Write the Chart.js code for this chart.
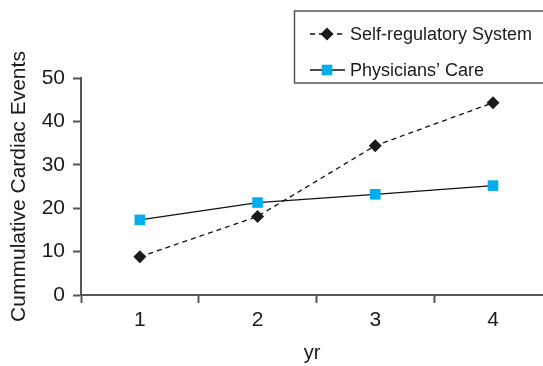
<!DOCTYPE html>
<html>
<head>
<meta charset="utf-8">
<script src="https://cdn.jsdelivr.net/npm/chart.js@4/dist/chart.umd.min.js"></script>
<style>
  html, body { margin: 0; padding: 0; background: #fff; }
  #wrap { width: 543px; height: 366px; position: relative; }
</style>
</head>
<body>
<div id="wrap"><canvas id="myChart"></canvas></div>
<script>
'use strict';
// data
const years = [1, 2, 3, 4];
const selfReg = [8.8, 18.1, 34.4, 44.3];
const physicians = [17.3, 21.3, 23.2, 25.2];
const seriesNames = ['Self-regulatory System', 'Physicians\u2019 Care'];
const yTicks = [0, 10, 20, 30, 40, 50];
const yTitle = 'Cummulative Cardiac Events';
const xTitle = 'yr';

const font = 'Liberation Sans, Arial, Helvetica, sans-serif';
const axisColor = '#555';
const textColor = '#1a1a1a';
const blue = '#00AEEF';

function toPoints(vals) {
    return years.map((x, i) => ({ x: x, y: vals[i] }));
}

// boxed legend, drawn from the datasets
const boxLegend = {
    id: 'boxLegend',
    afterDraw(chart) {
        const ctx = chart.ctx;
        const left = 294.5, top = 11, bottom = 83;
        ctx.save();
        ctx.strokeStyle = axisColor;
        ctx.lineWidth = 1.5;
        ctx.beginPath();
        ctx.moveTo(chart.width + 2, top);
        ctx.lineTo(left, top);
        ctx.lineTo(left, bottom);
        ctx.lineTo(chart.width + 2, bottom);
        ctx.stroke();

        const rows = [34, 70];
        chart.data.datasets.forEach((ds, i) => {
            const y = rows[i];
            const cx = 327;
            ctx.strokeStyle = ds.borderColor;
            ctx.lineWidth = ds.borderWidth;
            ctx.setLineDash(ds.borderDash || []);
            ctx.beginPath();
            ctx.moveTo(310, y);
            ctx.lineTo(345, y);
            ctx.stroke();
            ctx.setLineDash([]);
            ctx.fillStyle = ds.pointBackgroundColor;
            const r = ds.pointRadius;
            ctx.beginPath();
            if (ds.pointStyle === 'rectRot') {
                ctx.moveTo(cx, y - r);
                ctx.lineTo(cx + r, y);
                ctx.lineTo(cx, y + r);
                ctx.lineTo(cx - r, y);
                ctx.closePath();
            } else {
                const s = r * Math.SQRT1_2;
                ctx.rect(cx - s, y - s, 2 * s, 2 * s);
            }
            ctx.fill();
            ctx.fillStyle = textColor;
            ctx.font = '18px ' + font;
            ctx.textBaseline = 'middle';
            ctx.textAlign = 'left';
            ctx.fillText(ds.label, 350, y + 1);
        });
        ctx.restore();
    }
};

const config = {
    type: 'line',
    data: {
        datasets: [
            {
                label: seriesNames[0],
                data: toPoints(selfReg),
                borderColor: '#111',
                borderWidth: 1.3,
                borderDash: [5, 4],
                pointStyle: 'rectRot',
                pointRadius: 6.5,
                pointBackgroundColor: '#1a1a1a',
                pointBorderColor: '#1a1a1a',
                pointBorderWidth: 0,
                tension: 0,
            },
            {
                label: seriesNames[1],
                data: toPoints(physicians),
                borderColor: '#111',
                borderWidth: 1.3,
                pointStyle: 'rect',
                pointRadius: 7.5,
                pointBackgroundColor: blue,
                pointBorderColor: blue,
                pointBorderWidth: 0,
                tension: 0,
            },
        ],
    },
    options: {
        responsive: true,
        maintainAspectRatio: false,
        animation: false,
        layout: { autoPadding: false, padding: { top: 78, left: 0, right: 0, bottom: 0 } },
        plugins: {
            legend: { display: false },
            tooltip: { enabled: false },
        },
        scales: {
            x: {
                type: 'linear',
                min: 0.5,
                max: 4.425,
                afterBuildTicks: (scale) => {
                    scale.ticks = [0.5, 1, 1.5, 2, 2.5, 3, 3.5, 4].map((v) => ({ value: v }));
                },
                afterFit: (scale) => {
                    scale.height = 71;
                    scale.paddingLeft = 0;
                    scale.paddingRight = 0;
                },
                grid: {
                    drawOnChartArea: false,
                    tickLength: 8,
                    tickWidth: 2,
                    tickColor: (c) => (c.tick && Number.isInteger(c.tick.value) ? 'rgba(0,0,0,0)' : axisColor),
                },
                border: { display: true, color: axisColor, width: 2 },
                ticks: {
                    autoSkip: false,
                    maxRotation: 0,
                    padding: 5,
                    color: textColor,
                    font: { family: font, size: 21 },
                    callback: (v) => (Number.isInteger(v) ? String(v) : ''),
                },
                title: {
                    display: true,
                    text: xTitle,
                    color: textColor,
                    font: { family: font, size: 20 },
                    padding: { top: 4, bottom: 1 },
                },
            },
            y: {
                min: 0,
                max: 50,
                afterBuildTicks: (scale) => {
                    scale.ticks = yTicks.map((v) => ({ value: v }));
                },
                afterFit: (scale) => { scale.width = 81; },
                grid: {
                    drawOnChartArea: false,
                    tickLength: 8,
                    tickWidth: 2,
                    tickColor: axisColor,
                },
                border: { display: true, color: axisColor, width: 2 },
                ticks: {
                    padding: 8,
                    color: textColor,
                    font: { family: font, size: 21 },
                },
                title: {
                    display: true,
                    text: yTitle,
                    color: textColor,
                    font: { family: font, size: 21 },
                    padding: { top: 7, bottom: 0 },
                },
            },
        },
    },
    plugins: [boxLegend],
};

const myChart = new Chart(document.getElementById('myChart'), config);
</script>
</body>
</html>
